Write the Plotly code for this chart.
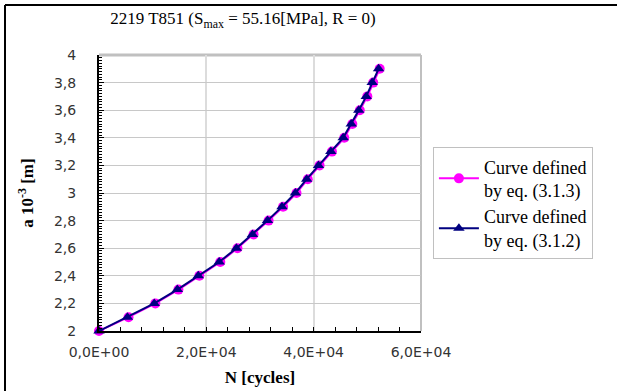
import plotly.graph_objects as go

# Data
a_values = [2.0, 2.1, 2.2, 2.3, 2.4, 2.5, 2.6, 2.7, 2.8, 2.9,
            3.0, 3.1, 3.2, 3.3, 3.4, 3.5, 3.6, 3.7, 3.8, 3.9]
n_eq313 = [0, 5500, 10500, 14800, 18700, 22600, 25800, 28800, 31600, 34300,
           36800, 38900, 41100, 43400, 45700, 47200, 48600, 50000, 51100, 52300]
n_eq312 = [0, 5300, 10300, 14600, 18500, 22400, 25600, 28600, 31400, 34100,
           36600, 38700, 40900, 43200, 45500, 47000, 48400, 49800, 50900, 52100]
x_tickvals = [0, 20000, 40000, 60000]
x_ticktext = ["0,0E+00", "2,0E+04", "4,0E+04", "6,0E+04"]
y_tickvals = [2, 2.2, 2.4, 2.6, 2.8, 3, 3.2, 3.4, 3.6, 3.8, 4]
y_ticktext = ["2", "2,2", "2,4", "2,6", "2,8", "3", "3,2", "3,4", "3,6", "3,8", "4"]

serif = "Liberation Serif, Times New Roman, serif"
sans = "DejaVu Sans, Verdana, sans-serif"

fig = go.Figure()
fig.add_trace(go.Scatter(
    x=n_eq313, y=a_values, mode="lines+markers",
    name="Curve defined<br>by eq. (3.1.3)",
    line=dict(color="#ff00ff", width=2),
    marker=dict(symbol="circle", size=10, color="#ff00ff"),
    cliponaxis=False,
))
fig.add_trace(go.Scatter(
    x=n_eq312, y=a_values, mode="lines+markers",
    name="Curve defined<br>by eq. (3.1.2)",
    line=dict(color="#000080", width=2),
    marker=dict(symbol="triangle-up", size=10, color="#000080"),
    cliponaxis=False,
))

fig.update_layout(
    width=617, height=391,
    margin=dict(l=99, r=196, t=55, b=60),
    paper_bgcolor="white", plot_bgcolor="white",
    showlegend=True,
    legend=dict(
        x=1.037, y=0.665, xanchor="left", yanchor="top",
        bordercolor="#c0c0c0", borderwidth=1,
        font=dict(family=serif, size=18, color="black"),
        itemwidth=40, tracegroupgap=14,
        bgcolor="white",
    ),
    title=dict(
        text="2219 T851 (S<sub>max</sub> = 55.16[MPa], R = 0)",
        x=243 / 617, xanchor="center", y=1 - 18 / 391, yanchor="middle",
        font=dict(family=serif, size=17, color="black"),
    ),
    xaxis=dict(
        range=[0, 60000], tickvals=x_tickvals, ticktext=x_ticktext,
        showgrid=True, gridcolor="#dcdcdc", gridwidth=2,
        showline=True, linecolor="black", linewidth=2,
        ticks="inside", ticklen=4, tickcolor="black",
        minor=dict(dtick=4000, ticks="inside", ticklen=4, tickcolor="black", showgrid=False),
        tickfont=dict(family=sans, size=14, color="#333333"),
        ticklabelstandoff=7,
        zeroline=False, automargin=False,
        title=dict(text="<b>N [cycles]</b>", font=dict(family=serif, size=17, color="black"), standoff=12),
    ),
    yaxis=dict(
        range=[2, 4], tickvals=y_tickvals, ticktext=y_ticktext,
        showgrid=True, gridcolor="#c8c8c8", gridwidth=1,
        showline=True, linecolor="black", linewidth=2,
        ticks="inside", ticklen=5, tickcolor="black",
        minor=dict(dtick=0.02, ticks="inside", ticklen=3, tickcolor="black", showgrid=False),
        tickfont=dict(family=sans, size=14, color="#333333"),
        ticklabelstandoff=18,
        zeroline=False, automargin=False,
        title=dict(text="<b>a 10<sup>-3</sup> [m]</b>", font=dict(family=serif, size=17, color="black"), standoff=16),
    ),
    shapes=[
        # top and right plot border (gray)
        dict(type="line", xref="paper", yref="paper", x0=0, x1=1, y0=1, y1=1,
             line=dict(color="#c0c0c0", width=3), layer="below"),
        dict(type="line", xref="paper", yref="paper", x0=1, x1=1, y0=0, y1=1,
             line=dict(color="#c0c0c0", width=2), layer="below"),
        # outer chart border (left and top, black)
        dict(type="line", xref="paper", yref="paper",
             x0=-94 / 322, x1=-94 / 322, y0=-60 / 276, y1=(276 + 50) / 276,
             line=dict(color="black", width=2)),
        dict(type="line", xref="paper", yref="paper",
             x0=-94 / 322, x1=(617 - 99) / 322, y0=(276 + 50) / 276, y1=(276 + 50) / 276,
             line=dict(color="black", width=2)),
    ],
)

fig.write_html("out.html", config={"displayModeBar": False},
               post_script="document.body.style.margin='0px';")
